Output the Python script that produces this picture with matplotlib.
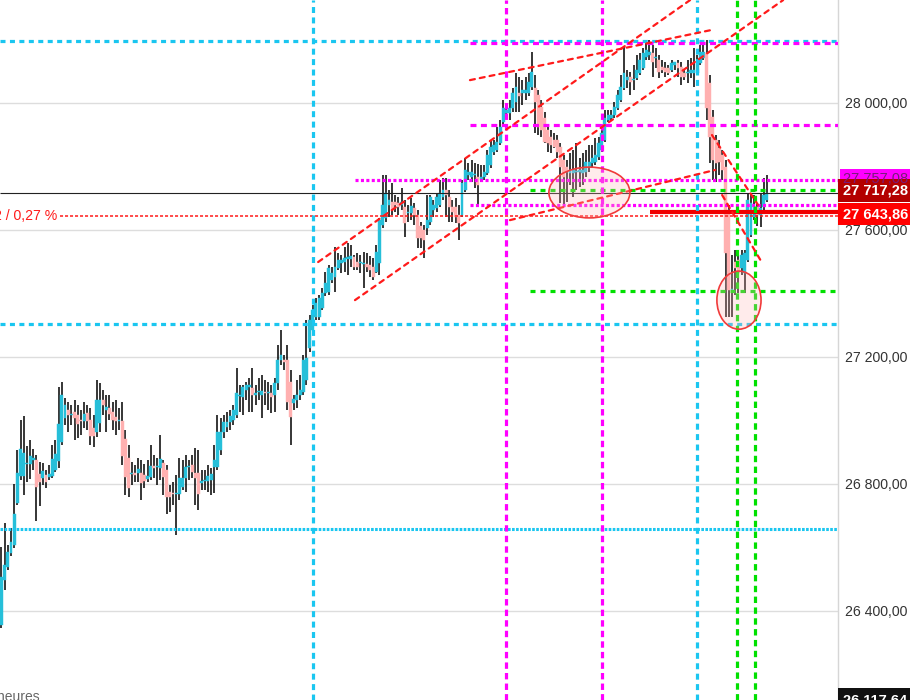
import matplotlib
matplotlib.use('Agg')
import matplotlib.pyplot as plt
import matplotlib.transforms as mtransforms
from matplotlib.patches import Ellipse, Rectangle

plt.rcParams['font.family'] = ['Liberation Sans', 'DejaVu Sans']
plt.rcParams['lines.scale_dashes'] = False

# hourly candles (index = bar number)
opens = [26356, 26497, 26538, 26582, 26608, 26740, 26825, 26825, 26863, 26863, 26875, 26875,
         26831, 26819, 26828, 26822, 26825, 26844, 26872, 26932, 27008, 27033, 27017, 27027,
         27017, 27001, 26998, 27023, 27001, 26976, 26963, 26992, 27064, 27033, 27039, 27027,
         27011, 26998, 26998, 26941, 26882, 26831, 26834, 26834, 26834, 26828, 26816, 26822,
         26856, 26853, 26850, 26866, 26844, 26775, 26771, 26768, 26768, 26790, 26819, 26853,
         26860, 26834, 26834, 26803, 26809, 26809, 26812, 26853, 26853, 26907, 26963, 26979,
         26995, 27001, 27017, 27077, 27074, 27096, 27105, 27102, 27080, 27090, 27080, 27090,
         27086, 27086, 27080, 27118, 27190, 27190, 27190, 27121, 27055, 27064, 27080, 27090,
         27127, 27228, 27285, 27326, 27326, 27354, 27401, 27404, 27442, 27452, 27480, 27496,
         27499, 27509, 27509, 27515, 27499, 27496, 27493, 27493, 27490, 27483, 27468, 27496,
         27616, 27638, 27679, 27688, 27688, 27685, 27679, 27672, 27653, 27653, 27669, 27647,
         27612, 27600, 27606, 27625, 27663, 27669, 27679, 27704, 27726, 27704, 27672, 27672,
         27647, 27647, 27726, 27773, 27767, 27773, 27767, 27757, 27767, 27779, 27805, 27846,
         27852, 27874, 27940, 27968, 27968, 27984, 28003, 28031, 28031, 28031, 28031, 28050,
         28047, 28025, 27987, 27953, 27915, 27893, 27883, 27883, 27861, 27820, 27798, 27779,
         27779, 27783, 27783, 27779, 27783, 27798, 27811, 27814, 27830, 27852, 27883, 27946,
         27953, 27962, 27984, 28009, 28047, 28072, 28082, 28072, 28079, 28094, 28110, 28144,
         28151, 28157, 28141, 28135, 28113, 28110, 28110, 28104, 28119, 28126, 28113, 28094,
         28094, 28094, 28094, 28094, 28126, 28141, 28157, 28063, 27956, 27883, 27858, 27836,
         27798, 27663, 27411, 27499, 27505, 27480, 27464, 27505, 27584, 27641, 27672, 27647,
         27672, 27694]
highs = [26601, 26677, 26608, 26661, 26800, 26907, 27001, 27014, 26919, 26938, 26910, 26891,
         26869, 26866, 26844, 26860, 26923, 26938, 27105, 27121, 27071, 27058, 27049, 27064,
         27049, 27033, 27058, 27049, 27039, 27017, 27127, 27118, 27096, 27080, 27080, 27058,
         27064, 27039, 27058, 26970, 26923, 26869, 26860, 26882, 26875, 26863, 26875, 26923,
         26891, 26882, 26954, 26875, 26860, 26797, 26806, 26828, 26882, 26875, 26891, 26875,
         26891, 26913, 26907, 26844, 26844, 26860, 26850, 26923, 27017, 27008, 27017, 27027,
         27033, 27049, 27165, 27112, 27112, 27121, 27134, 27165, 27112, 27134, 27143, 27127,
         27121, 27112, 27134, 27238, 27285, 27206, 27238, 27159, 27080, 27127, 27143, 27206,
         27316, 27332, 27364, 27386, 27395, 27417, 27468, 27490, 27483, 27546, 27527, 27521,
         27546, 27559, 27553, 27521, 27527, 27521, 27531, 27527, 27518, 27512, 27553, 27638,
         27773, 27773, 27726, 27748, 27710, 27704, 27732, 27694, 27679, 27701, 27685, 27663,
         27625, 27616, 27710, 27710, 27694, 27716, 27757, 27764, 27764, 27726, 27694, 27701,
         27679, 27757, 27827, 27811, 27820, 27811, 27808, 27805, 27805, 27852, 27883, 27883,
         27924, 27946, 28009, 27994, 28009, 28047, 28094, 28082, 28072, 28082, 28094, 28160,
         28088, 28041, 28009, 27972, 27931, 27915, 27905, 27899, 27874, 27836, 27820, 27842,
         27852, 27874, 27827, 27842, 27852, 27868, 27868, 27890, 27893, 27921, 27978, 27978,
         27978, 28003, 28041, 28088, 28176, 28104, 28097, 28119, 28151, 28157, 28173, 28192,
         28198, 28182, 28173, 28151, 28135, 28129, 28119, 28135, 28129, 28135, 28129, 28104,
         28135, 28141, 28173, 28151, 28182, 28198, 28198, 28088, 27978, 27899, 27883, 27852,
         27820, 27679, 27521, 27537, 27521, 27537, 27537, 27716, 27716, 27710, 27685, 27716,
         27764, 27773]
lows = [26346, 26466, 26529, 26573, 26598, 26734, 26812, 26765, 26806, 26816, 26844, 26683,
        26730, 26797, 26787, 26812, 26819, 26838, 26850, 26923, 26985, 26963, 26985, 26938,
        26945, 26954, 26976, 26970, 26923, 26916, 26948, 26963, 27017, 26963, 27001, 26970,
        26954, 26970, 26860, 26765, 26759, 26797, 26806, 26806, 26749, 26787, 26806, 26812,
        26819, 26797, 26812, 26765, 26705, 26711, 26734, 26639, 26749, 26781, 26775, 26812,
        26819, 26734, 26718, 26781, 26781, 26775, 26765, 26771, 26844, 26891, 26945, 26963,
        26970, 26985, 27008, 27027, 27017, 27064, 27027, 27027, 27049, 27064, 27008, 27049,
        27033, 27023, 27027, 27096, 27175, 27159, 27033, 26923, 27033, 27039, 27064, 27080,
        27112, 27216, 27269, 27316, 27316, 27348, 27392, 27395, 27433, 27404, 27474, 27464,
        27468, 27458, 27483, 27474, 27474, 27464, 27417, 27468, 27452, 27442, 27464, 27458,
        27606, 27625, 27641, 27647, 27657, 27647, 27663, 27578, 27625, 27631, 27616, 27543,
        27543, 27512, 27584, 27616, 27641, 27657, 27672, 27694, 27641, 27625, 27625, 27622,
        27568, 27641, 27720, 27757, 27751, 27732, 27679, 27751, 27757, 27773, 27795, 27836,
        27846, 27868, 27931, 27953, 27946, 27972, 27972, 27972, 27994, 28009, 28022, 28041,
        27905, 27899, 27893, 27874, 27846, 27842, 27858, 27827, 27685, 27679, 27688, 27742,
        27704, 27726, 27735, 27742, 27767, 27783, 27795, 27805, 27820, 27846, 27877, 27940,
        27946, 27953, 27978, 28003, 28041, 28047, 28025, 28041, 28072, 28088, 28104, 28135,
        28135, 28082, 28110, 28079, 28094, 28082, 28088, 28097, 28104, 28082, 28057, 28072,
        28063, 28079, 28050, 28088, 28119, 28135, 27946, 27811, 27757, 27751, 27773, 27757,
        27326, 27326, 27326, 27395, 27401, 27458, 27401, 27499, 27578, 27631, 27612, 27609,
        27663, 27688]
closes = [26507, 26545, 26586, 26617, 26705, 26834, 26910, 26897, 26866, 26888, 26882, 26790,
          26806, 26841, 26806, 26831, 26879, 26894, 26988, 27080, 27049, 27017, 27020, 27008,
          26988, 26998, 27020, 26998, 26951, 26951, 27064, 27064, 27049, 27042, 27020, 27001,
          26998, 26998, 26888, 26822, 26787, 26834, 26828, 26847, 26803, 26809, 26825, 26856,
          26850, 26853, 26879, 26822, 26759, 26759, 26768, 26771, 26819, 26819, 26853, 26856,
          26838, 26819, 26768, 26809, 26812, 26825, 26831, 26875, 26963, 26963, 26995, 26995,
          27014, 27033, 27086, 27077, 27105, 27112, 27112, 27080, 27086, 27090, 27093, 27086,
          27086, 27074, 27118, 27190, 27206, 27184, 27058, 27011, 27067, 27080, 27096, 27190,
          27197, 27316, 27348, 27370, 27386, 27401, 27433, 27480, 27464, 27483, 27505, 27505,
          27512, 27515, 27518, 27483, 27483, 27496, 27493, 27483, 27474, 27452, 27531, 27631,
          27679, 27716, 27694, 27663, 27679, 27672, 27688, 27622, 27653, 27676, 27647, 27575,
          27575, 27568, 27631, 27704, 27679, 27704, 27716, 27726, 27710, 27672, 27657, 27641,
          27622, 27748, 27789, 27783, 27783, 27773, 27742, 27767, 27783, 27836, 27861, 27868,
          27877, 27924, 27984, 27978, 27984, 28031, 28050, 28022, 28041, 28041, 28066, 28097,
          28003, 27924, 27915, 27877, 27874, 27868, 27861, 27846, 27798, 27767, 27783, 27789,
          27789, 27783, 27789, 27789, 27814, 27814, 27827, 27836, 27874, 27905, 27953, 27962,
          27962, 27987, 28025, 28050, 28094, 28082, 28066, 28072, 28104, 28135, 28157, 28166,
          28160, 28129, 28141, 28097, 28104, 28097, 28094, 28126, 28129, 28110, 28082, 28082,
          28094, 28104, 28104, 28126, 28160, 28160, 27984, 27893, 27820, 27811, 27814, 27789,
          27527, 27411, 27411, 27480, 27464, 27521, 27527, 27694, 27685, 27672, 27647, 27669,
          27710, 27717]

price_ticks = [26400, 26800, 27200, 27600, 28000]
last_price = 27717.28
alert_price = 27757.08
ref_price = 27643.86
low_price = 26117.64

# user drawn levels (price)
cyan_levels = [28195, 27304]
cyan_dotted = 26658
magenta_dashed = [28189, 27930]
magenta_dotted = [27757, 27679]
green_levels = [27726, 27408]
red_solid = 27657
# vertical markers (bar index)
cyan_bars = [98, 219]
magenta_bars = [158.8, 189.1]
green_bars = [231.6, 237.3]
# trend lines: (bar, price) pairs
trend_lines = [((99.7, 27499), (216.8, 28324)),
               ((111.3, 27379), (246.1, 28324)),
               ((147.5, 28072), (223.1, 28229)),
               ((160.1, 27631), (224.7, 27789)),
               ((223.7, 27899), (238.2, 27679)),
               ((226.9, 27710), (239.5, 27496))]
circles = [(185.1, 27718, 25.5, 160), (232.2, 27379, 13.9, 183)]

UP = '#26BFD9'
DOWN = '#FFB0B0'
CYAN = '#1AC6F0'
MAG = '#FF00FF'
GREEN = '#00E000'
RED = '#FF1A1A'


def fmt(v):
    return f"{v:,.2f}".replace(',', ' ').replace('.', ',')


fig = plt.figure(figsize=(9.1, 7.0), dpi=100)
ax = fig.add_axes([0, 0, 838 / 910, 1])

x = list(range(len(closes)))
xmin = -0.472
xmax = xmin + 838 / 3.176

# candles
ax.vlines(x, lows, highs, color='black', lw=1.1, zorder=2)
bottoms = [min(o, c) for o, c in zip(opens, closes)]
heights = [max(abs(c - o), 4) for o, c in zip(opens, closes)]
cols = [UP if c >= o else DOWN for o, c in zip(opens, closes)]
ax.bar(x, heights, bottom=bottoms, width=0.92, color=cols, edgecolor=cols,
       linewidth=0.3, zorder=3)

# horizontal levels
for lv in cyan_levels:
    ax.hlines(lv, xmin, xmax, color=CYAN, lw=2.3, linestyles=(0, (3.6, 3.2)), zorder=4)
ax.hlines(cyan_dotted, xmin, xmax, color=CYAN, lw=2.2, linestyles=(0, (1.9, 1.0)), zorder=4)
for lv in magenta_dashed:
    ax.hlines(lv, 147.5, xmax, color=MAG, lw=2.3, linestyles=(0, (4.3, 3.2)), zorder=4)
ax.hlines(magenta_dotted[0], 111.3, xmax, color=MAG, lw=2.3, linestyles=(0, (2.2, 1.7)), zorder=4)
ax.hlines(magenta_dotted[1], 147.5, xmax, color=MAG, lw=2.3, linestyles=(0, (2.2, 1.7)), zorder=4)
for lv in green_levels:
    ax.hlines(lv, 166.4, xmax, color=GREEN, lw=2.3, linestyles=(0, (3.6, 3.6)), zorder=4)
ax.hlines(last_price, xmin, xmax, color='#222222', lw=0.8, zorder=4)
ax.hlines(red_solid, 204.2, xmax, color='#F00000', lw=3.0, zorder=4)
ax.hlines(ref_price, 18.4, xmax, color=RED, lw=1.1, linestyles=(0, (2.2, 1.4)), zorder=4)

# vertical markers
for b in cyan_bars:
    ax.axvline(b, color=CYAN, lw=2.3, linestyle=(0, (4.3, 3.2)), zorder=4)
for b in magenta_bars:
    ax.axvline(b, color=MAG, lw=2.3, linestyle=(0, (4.6, 3.0)), zorder=4)
for b in green_bars:
    ax.axvline(b, color=GREEN, lw=2.3, linestyle=(0, (4.6, 3.2)), zorder=4)

# trend lines
for (x0, y0), (x1, y1) in trend_lines:
    ax.plot([x0, x1], [y0, y1], color=RED, lw=1.6, linestyle=(0, (3.6, 3.6)),
            dash_capstyle='round', zorder=5)

for cx, cy, w, h in circles:
    ax.add_patch(Ellipse((cx, cy), w, h, facecolor=(1, 0.72, 0.72, 0.28),
                         edgecolor='#F03A3A', lw=1.2, zorder=6))

ax.text(57 / 3.176 - 0.472, ref_price, '2 / 0,27 %', color=RED, fontsize=10.2,
        ha='right', va='center', zorder=6)

ax.set_xlim(xmin, xmax)
ax.set_ylim(26119.4, 28324.4)
ax.set_xticks([])
ax.set_yticks(price_ticks)
ax.set_yticklabels([fmt(v) for v in price_ticks])
ax.yaxis.set_ticks_position('right')
ax.tick_params(axis='y', length=0, pad=5, labelsize=10.2, colors='#333333')
ax.grid(axis='y', color='#dddddd', lw=1, zorder=0)
ax.set_axisbelow(True)
for side in ['top', 'left', 'bottom']:
    ax.spines[side].set_visible(False)
ax.spines['right'].set_color('#d6d6d6')
ax.spines['right'].set_linewidth(1)

# price boxes on the right scale
tr = mtransforms.blended_transform_factory(ax.transAxes, ax.transData)
x_end = 910 / 838
boxes = [(alert_price, 27762, 63, MAG, '#7a1a7a', 1.0024, False),
         (last_price, 27724, 70, '#B30000', 'white', 1.0, True),
         (ref_price, 27650, 70, '#FF0000', 'white', 1.0, True),
         (low_price, 26119, 76, '#111111', 'white', 1.0, True)]
for val, center, hgt, fc, tc, x0, bold in boxes:
    ax.add_patch(Rectangle((x0, center - hgt / 2), x_end - x0, hgt, transform=tr,
                           facecolor=fc, edgecolor='none', clip_on=False, zorder=7))
    ax.text(1.006, center, fmt(val), transform=tr, color=tc, fontsize=10.5,
            fontweight='bold' if bold else 'normal', ha='left', va='center',
            clip_on=False, zorder=8)

fig.text(-3 / 910, -1 / 700, 'heures', color='#666666', fontsize=10, va='baseline')

fig.savefig('out.png', dpi=100)
